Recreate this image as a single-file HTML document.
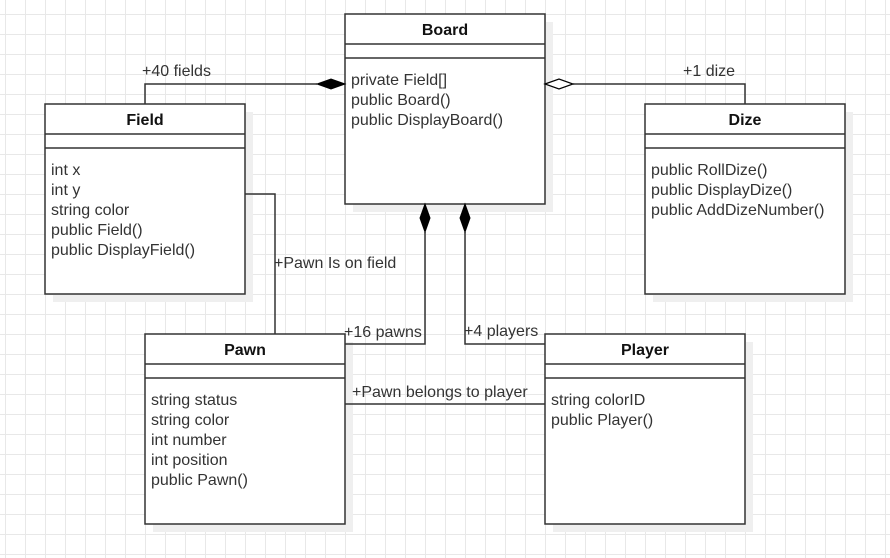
<!DOCTYPE html>
<html><head><meta charset="utf-8"><style>
body{margin:0;width:890px;height:558px;overflow:hidden;background:#fff;
background-image:linear-gradient(#e8e8e8 1px,transparent 1px),linear-gradient(90deg,#e8e8e8 1px,transparent 1px);
background-size:20px 20px;background-position:5px 14px;font-family:"Liberation Sans",sans-serif;}
</style></head><body>
<svg width="890" height="558" style="position:absolute;left:0;top:0" font-family="Liberation Sans, sans-serif" font-size="16" fill="#333">
<g fill="#efefef">
<rect x="353" y="22" width="200" height="190"/>
<rect x="53" y="112" width="200" height="190"/>
<rect x="653" y="112" width="200" height="190"/>
<rect x="153" y="342" width="200" height="190"/>
<rect x="553" y="342" width="200" height="190"/>
</g>
<g stroke="#333" stroke-width="1.5" fill="#fff">
<rect x="345" y="14" width="200" height="190"/><line x1="345" y1="44" x2="545" y2="44"/><line x1="345" y1="58" x2="545" y2="58"/>
<rect x="45" y="104" width="200" height="190"/><line x1="45" y1="134" x2="245" y2="134"/><line x1="45" y1="148" x2="245" y2="148"/>
<rect x="645" y="104" width="200" height="190"/><line x1="645" y1="134" x2="845" y2="134"/><line x1="645" y1="148" x2="845" y2="148"/>
<rect x="145" y="334" width="200" height="190"/><line x1="145" y1="364" x2="345" y2="364"/><line x1="145" y1="378" x2="345" y2="378"/>
<rect x="545" y="334" width="200" height="190"/><line x1="545" y1="364" x2="745" y2="364"/><line x1="545" y1="378" x2="745" y2="378"/>
</g>
<g stroke="#333" stroke-width="1.5" fill="none">
<polyline points="145,104 145,84 317,84"/>
<polyline points="573,84 745,84 745,104"/>
<polyline points="245,194 275,194 275,334"/>
<polyline points="425,232 425,344 345,344"/>
<polyline points="465,232 465,344 545,344"/>
<line x1="345" y1="404" x2="545" y2="404"/>
</g>
<polygon points="345,84 331,79 317,84 331,89" fill="#000" stroke="#000"/>
<polygon points="545,84 559,79 573,84 559,89" fill="#fff" stroke="#000" stroke-width="1.2"/>
<polygon points="425,204 430,218 425,232 420,218" fill="#000" stroke="#000"/>
<polygon points="465,204 470,218 465,232 460,218" fill="#000" stroke="#000"/>
<g font-weight="bold" text-anchor="middle" fill="#111">
<text x="445" y="35">Board</text><text x="145" y="125">Field</text><text x="745" y="125">Dize</text>
<text x="245" y="355">Pawn</text><text x="645" y="355">Player</text>
</g>
<g>
<text x="351" y="85">private Field[]</text><text x="351" y="105">public Board()</text><text x="351" y="125">public DisplayBoard()</text>
<text x="51" y="175">int x</text><text x="51" y="195">int y</text><text x="51" y="215">string color</text><text x="51" y="235">public Field()</text><text x="51" y="255">public DisplayField()</text>
<text x="651" y="175">public RollDize()</text><text x="651" y="195">public DisplayDize()</text><text x="651" y="215">public AddDizeNumber()</text>
<text x="151" y="405">string status</text><text x="151" y="425">string color</text><text x="151" y="445">int number</text><text x="151" y="465">int position</text><text x="151" y="485">public Pawn()</text>
<text x="551" y="405">string colorID</text><text x="551" y="425">public Player()</text>
<text x="142" y="76">+40 fields</text><text x="683" y="76">+1 dize</text>
<text x="274" y="268">+Pawn Is on field</text>
<text x="344" y="337">+16 pawns</text><text x="464" y="336">+4 players</text>
<text x="352" y="397">+Pawn belongs to player</text>
</g>
</svg>
</body></html>
